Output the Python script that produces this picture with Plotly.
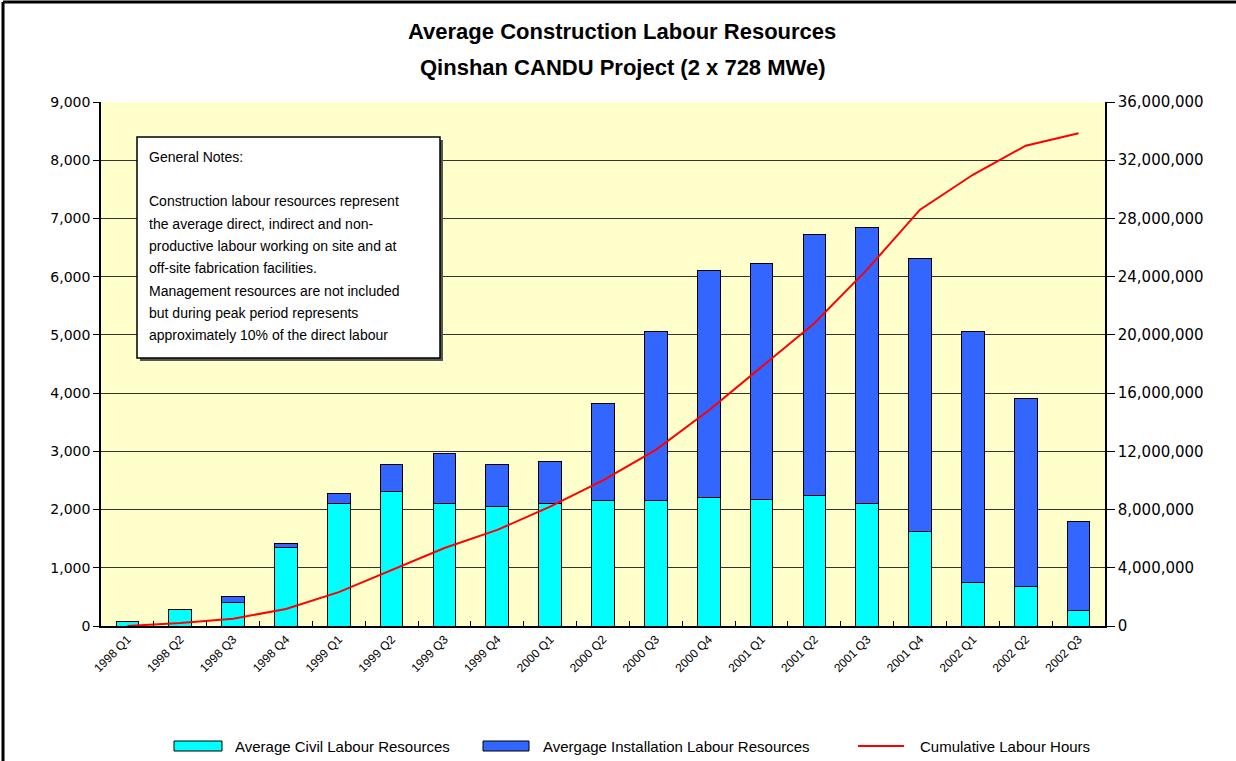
import plotly.graph_objects as go

quarters = ["1998 Q1", "1998 Q2", "1998 Q3", "1998 Q4",
            "1999 Q1", "1999 Q2", "1999 Q3", "1999 Q4",
            "2000 Q1", "2000 Q2", "2000 Q3", "2000 Q4",
            "2001 Q1", "2001 Q2", "2001 Q3", "2001 Q4",
            "2002 Q1", "2002 Q2", "2002 Q3"]
civil = [70, 290, 410, 1340, 2100, 2310, 2110, 2060, 2110, 2150,
         2150, 2200, 2165, 2250, 2110, 1630, 740, 670, 260]
installation = [0, 0, 90, 70, 180, 460, 860, 710, 720, 1680,
                2900, 3900, 4055, 4480, 4740, 4690, 4310, 3230, 1540]
cumulative_hours = [0, 200000, 500000, 1170000, 2330000, 3850000, 5360000,
                    6600000, 8200000, 10000000, 12100000, 14800000,
                    17800000, 20800000, 24500000, 28600000, 31000000,
                    33000000, 33850000]

series_names = ["Average Civil Labour Resources",
                "Avergage Installation Labour Resources",
                "Cumulative Labour Hours"]
title_lines = ["Average Construction Labour Resources",
               "Qinshan CANDU Project (2 x 728 MWe)"]
note_lines = ["General Notes:",
              "",
              "Construction labour resources represent",
              "the average direct, indirect and non-",
              "productive labour working on site and at",
              "off-site fabrication facilities.",
              "Management resources are not included",
              "but during peak period represents",
              "approximately 10% of the direct labour"]

FONT = "Liberation Sans, Arial, sans-serif"
CYAN, BLUE, RED = "#00FFFF", "#3366FF", "#FF0000"

fig = go.Figure()
fig.add_trace(go.Bar(x=quarters, y=civil, name=series_names[0],
                     marker=dict(color=CYAN, line=dict(color="black", width=1))))
fig.add_trace(go.Bar(x=quarters, y=installation, name=series_names[1],
                     marker=dict(color=BLUE, line=dict(color="black", width=1))))
fig.add_trace(go.Scatter(x=quarters, y=cumulative_hours, name=series_names[2],
                         mode="lines", line=dict(color=RED, width=2), yaxis="y2"))

W, H = 1236, 761
L, R, T, B = 101, 1105, 102, 626


def px_x(p):
    return (p - L) / (R - L)


def px_y(p):
    return (B - p) / (B - T)


annotations = []
shapes = []

for i, t in enumerate(title_lines):
    annotations.append(dict(text="<b>" + t + "</b>", x=px_x(622), y=px_y(32 + 35 * i),
                            xref="paper", yref="paper", showarrow=False,
                            xanchor="center", yanchor="middle",
                            font=dict(family=FONT, size=22, color="black")))

note_y = [157, 179, 201, 224, 246, 268, 291, 313, 335]
for t, yy in zip(note_lines, note_y):
    if not t:
        continue
    annotations.append(dict(text=t, x=px_x(147), y=px_y(yy), xref="paper", yref="paper",
                            showarrow=False, xanchor="left", yanchor="middle",
                            font=dict(family=FONT, size=14, color="black")))

shapes += [
    dict(type="rect", xref="paper", yref="paper", x0=px_x(140), x1=px_x(443),
         y0=px_y(361), y1=px_y(140), fillcolor="#555555", line=dict(width=0), layer="above"),
    dict(type="rect", xref="paper", yref="paper", x0=px_x(137), x1=px_x(440),
         y0=px_y(358), y1=px_y(137), fillcolor="white",
         line=dict(color="black", width=1.5), layer="above"),
    dict(type="line", xref="paper", yref="paper", x0=px_x(3), x1=px_x(1300),
         y0=px_y(2), y1=px_y(2), line=dict(color="black", width=3)),
    dict(type="line", xref="paper", yref="paper", x0=px_x(3), x1=px_x(3),
         y0=px_y(2), y1=px_y(800), line=dict(color="black", width=3)),
]

# custom legend (wide swatches as in the reference)
leg_y = 746
swatches = [(174, 222, 233, CYAN, "rect"), (483, 529, 541, BLUE, "rect"),
            (858, 904, 918, RED, "line")]
for (sx0, sx1, tx, col, kind), name in zip(swatches, series_names):
    if kind == "rect":
        shapes.append(dict(type="rect", xref="paper", yref="paper",
                           x0=px_x(sx0), x1=px_x(sx1), y0=px_y(leg_y + 5), y1=px_y(leg_y - 5),
                           fillcolor=col, line=dict(color="black", width=1)))
    else:
        shapes.append(dict(type="line", xref="paper", yref="paper",
                           x0=px_x(sx0), x1=px_x(sx1), y0=px_y(leg_y), y1=px_y(leg_y),
                           line=dict(color=col, width=2)))
    annotations.append(dict(text=name, x=px_x(tx), y=px_y(leg_y), xref="paper", yref="paper",
                            showarrow=False, xanchor="left", yanchor="middle",
                            font=dict(family=FONT, size=15, color="black")))

fig.update_layout(
    width=W, height=H,
    margin=dict(l=L, r=W - R, t=T, b=H - B),
    barmode="stack", bargap=0.57,
    plot_bgcolor="#FFFFCC", paper_bgcolor="white",
    font=dict(family=FONT, size=12, color="black"),
    showlegend=False,
    xaxis=dict(showline=True, linecolor="black", linewidth=1.5, ticks="inside",
               tickson="boundaries", ticklen=5, tickcolor="black", tickangle=-45,
               tickfont=dict(family=FONT, size=12), showgrid=False),
    yaxis=dict(range=[0, 9000], dtick=1000, tickformat=",", showline=True,
               linecolor="black", linewidth=1.5, ticks="outside", ticklen=6,
               tickcolor="black", gridcolor="#333333", gridwidth=1,
               zeroline=False, tickfont=dict(family="DejaVu Sans", size=14)),
    yaxis2=dict(range=[0, 36000000], dtick=4000000, tickformat=",", overlaying="y",
                side="right", showline=True, linecolor="black", linewidth=1.5,
                ticks="outside", ticklen=8, tickcolor="black", showgrid=False,
                zeroline=False, tickfont=dict(family="DejaVu Sans", size=15)),
    annotations=annotations,
    shapes=shapes,
)

fig.write_html("out.html", config={"displayModeBar": False},
               post_script="document.body.style.margin='0px';document.body.style.overflow='hidden';")
